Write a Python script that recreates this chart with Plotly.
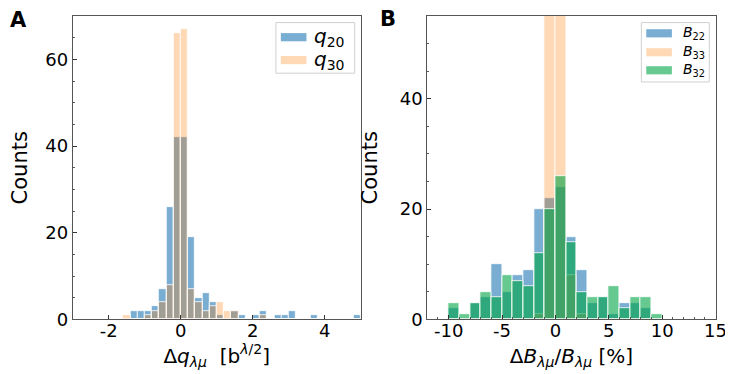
import plotly.graph_objects as go

# ---------------- data ----------------
# Panel A: histogram of Δq (bin width 0.2)
a_centers = [-1.5, -1.3, -1.1, -0.9, -0.7, -0.5, -0.3, -0.1, 0.1, 0.3, 0.5,
             0.7, 0.9, 1.1, 1.3, 1.5, 1.7, 1.9, 2.1, 2.3, 2.5, 2.7, 2.9, 3.1,
             3.3, 3.5, 3.7, 3.9, 4.1, 4.3, 4.5, 4.7, 4.9]
a_q20 = [0, 2, 2, 2, 3, 7, 26, 42, 42, 19, 5,
         6, 4, 1, 0, 2, 1, 0, 1, 2, 0, 1, 1, 2,
         0, 0, 1, 0, 0, 0, 0, 0, 1]
a_q30 = [1, 0, 0, 1, 2, 4, 8, 66, 67, 7, 4,
         2, 3, 4, 2, 2, 0, 0, 0, 1, 0, 0, 0, 0,
         0, 0, 0, 0, 0, 0, 0, 0, 0]
a_binwidth = 0.2
a_xticks = [-2, 0, 2, 4]
a_xticklabels = ["-2", "0", "2", "4"]
a_yticks = [0, 20, 40, 60]

# Panel B: histogram of ΔB/B in % (bin width 1)
b_centers = [-9.5, -8.5, -7.5, -6.5, -5.5, -4.5, -3.5, -2.5, -1.5, -0.5,
             0.5, 1.5, 2.5, 3.5, 4.5, 5.5, 6.5, 7.5, 8.5, 9.5]
b_B22 = [2, 0, 3, 4, 10, 5, 8, 9, 20, 22, 24, 15, 9, 3, 4, 1, 3, 3, 2, 0]
b_B33 = [0, 0, 0, 0, 0, 0, 0, 0, 1, 64, 66, 8, 1, 0, 0, 0, 0, 0, 0, 0]
b_B32 = [3, 1, 3, 5, 4, 8, 7, 6, 12, 20, 26, 14, 5, 4, 4, 6, 2, 4, 4, 1]
b_binwidth = 1.0
b_xticks = [-10, -5, 0, 5, 10, 15]
b_xticklabels = ["-10", "-5", "0", "5", "10", "15"]
b_yticks = [0, 20, 40]

# ---------------- styling ----------------
W, H = 733, 374
BLUE = "rgba(31,119,180,0.6)"
ORANGE = "rgba(255,127,14,0.3)"
GREEN = "rgba(0,165,70,0.6)"
FONT = "DejaVu Sans"


def px(x):
    return x / W


def py(y):
    return 1 - y / H


fig = go.Figure()

bar_line = dict(color="white", width=0.8)
fig.add_trace(go.Bar(x=a_centers, y=a_q20, width=a_binwidth, name="q20",
                     marker=dict(color=BLUE, line=bar_line),
                     xaxis="x", yaxis="y", showlegend=False))
fig.add_trace(go.Bar(x=a_centers, y=a_q30, width=a_binwidth, name="q30",
                     marker=dict(color=ORANGE, line=bar_line),
                     xaxis="x", yaxis="y", showlegend=False))
fig.add_trace(go.Bar(x=b_centers, y=b_B22, width=b_binwidth, name="B22",
                     marker=dict(color=BLUE, line=bar_line),
                     xaxis="x2", yaxis="y2", showlegend=False))
fig.add_trace(go.Bar(x=b_centers, y=b_B33, width=b_binwidth, name="B33",
                     marker=dict(color=ORANGE, line=bar_line),
                     xaxis="x2", yaxis="y2", showlegend=False))
fig.add_trace(go.Bar(x=b_centers, y=b_B32, width=b_binwidth, name="B32",
                     marker=dict(color=GREEN, line=bar_line),
                     xaxis="x2", yaxis="y2", showlegend=False))

ydom = [py(320), py(8.3)]
axis_common = dict(showline=True, mirror=True, linecolor="#555", linewidth=1,
                   ticks="inside", ticklen=4, tickcolor="#333", tickwidth=1,
                   showgrid=False, zeroline=False,
                   tickfont=dict(family=FONT, size=18, color="black"))
title_font = dict(family=FONT, size=20, color="black")

fig.update_layout(
    width=W, height=H, autosize=False,
    margin=dict(l=0, r=0, t=0, b=0),
    paper_bgcolor="white", plot_bgcolor="white",
    barmode="overlay", bargap=0,
    font=dict(family=FONT, color="black"),
    xaxis=dict(domain=[px(65.7), px(358)], range=[-3, 5],
               tickvals=a_xticks, ticktext=a_xticklabels, ticklabelstandoff=-5,
               title=dict(text="Δ<i>q</i><sub><i>λμ</i></sub>  [b<sup><i>λ</i>/2</sup>]",
                          font=title_font, standoff=8),
               anchor="y", **axis_common),
    yaxis=dict(domain=ydom, range=[0, 70], tickvals=a_yticks,
               minor=dict(dtick=5, ticks="inside", ticklen=2, tickcolor="#555"),
               title=dict(text="Counts", font=dict(family=FONT, size=21), standoff=16),
               anchor="x", **axis_common),
    xaxis2=dict(domain=[px(425.7), px(718.3)], range=[-12, 15],
                tickvals=b_xticks, ticktext=b_xticklabels, ticklabelstandoff=-5,
                minor=dict(dtick=1, ticks="inside", ticklen=2, tickcolor="#555"),
                title=dict(text="Δ<i>B</i><sub><i>λμ</i></sub>/<i>B</i><sub><i>λμ</i></sub> [%]",
                           font=title_font, standoff=8),
                anchor="y2", **axis_common),
    yaxis2=dict(domain=ydom, range=[0, 55], tickvals=b_yticks,
                minor=dict(dtick=5, ticks="inside", ticklen=2, tickcolor="#555"),
                title=dict(text="Counts", font=dict(family=FONT, size=21), standoff=16),
                anchor="x2", **axis_common),
)

shapes = []
annotations = []

# panel letters
annotations.append(dict(text="<b>A</b>", x=px(0), y=py(12), xref="paper", yref="paper",
                        xanchor="left", yanchor="middle", showarrow=False,
                        font=dict(family=FONT, size=21, color="black")))
annotations.append(dict(text="<b>B</b>", x=px(376), y=py(11), xref="paper", yref="paper",
                        xanchor="left", yanchor="middle", showarrow=False,
                        font=dict(family=FONT, size=21, color="black")))


def legend(box, entries, patch_x, text_x, fsize):
    x0, y0, x1, y1 = box
    shapes.append(dict(type="rect", xref="paper", yref="paper",
                       x0=px(x0), x1=px(x1), y0=py(y1), y1=py(y0),
                       line=dict(color="#d0d0d0", width=1), fillcolor="rgba(255,255,255,0.8)",
                       layer="above"))
    for label, color, yc in entries:
        shapes.append(dict(type="rect", xref="paper", yref="paper",
                           x0=px(patch_x[0]), x1=px(patch_x[1]),
                           y0=py(yc + 4.2), y1=py(yc - 4.2),
                           line=dict(width=0), fillcolor=color, layer="above"))
        annotations.append(dict(text=label, x=px(text_x), y=py(yc), xref="paper", yref="paper",
                                xanchor="left", yanchor="middle", showarrow=False,
                                font=dict(family=FONT, size=fsize, color="black")))


legend((272, 15, 352, 67),
       [("<i>q</i><sub>20</sub>", BLUE, 30), ("<i>q</i><sub>30</sub>", ORANGE, 53.5)],
       (277, 303), 309, 20)
legend((643, 15, 712, 76),
       [("<i>B</i><sub>22</sub>", BLUE, 26), ("<i>B</i><sub>33</sub>", ORANGE, 45.5),
        ("<i>B</i><sub>32</sub>", GREEN, 64)],
       (648, 674), 683, 14)

fig.update_layout(shapes=shapes, annotations=annotations)
fig.write_html("out.html")
